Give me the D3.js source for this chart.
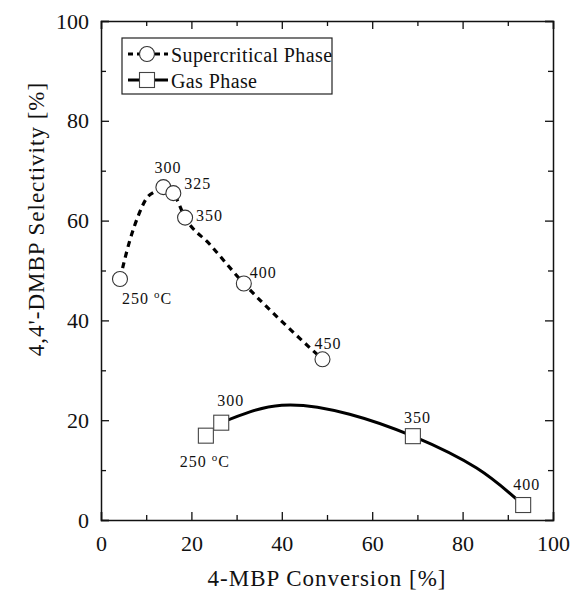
<!DOCTYPE html>
<html lang="en">
<head>
    <meta charset="UTF-8">
    <title>4,4'-DMBP Selectivity vs 4-MBP Conversion</title>
    <script src="https://d3js.org/d3.v7.min.js"></script>
    <style>
        body { margin: 0; background: #fff; }
        svg { display: block; }
    </style>
</head>
<body>
    <div id="chart"></div>
    <script>
        // supercritical phase (circles)
        const scTemps = ["250", "300", "325", "350", "400", "450"];
        const scConversion = [4.2, 13.8, 16.0, 18.6, 31.6, 49.0];
        const scSelectivity = [48.3, 66.7, 65.5, 60.6, 47.4, 32.2];
        // dashed trend line
        const scCurveX = [4.2, 6.4, 8.3, 10.1, 11.9, 13.8, 16.0, 18.6, 24.0, 31.6, 40.0, 49.0];
        const scCurveY = [48.3, 56.1, 61.1, 64.5, 65.8, 66.7, 65.5, 60.6, 55.3, 47.4, 39.8, 32.2];

        // gas phase (squares)
        const gasTemps = ["250", "300", "350", "400"];
        const gasConversion = [23.2, 26.6, 69.0, 93.4];
        const gasSelectivity = [16.9, 19.5, 16.8, 3.0];
        // solid fitted line
        const gasCurveX = [26.6, 40.0, 55.0, 69.0, 83.1, 93.4];
        const gasCurveY = [19.5, 23.0, 21.2, 16.8, 10.4, 3.0];

        const majorTicks = [0, 20, 40, 60, 80, 100];
        const minorTicks = [10, 30, 50, 70, 90];

        const legendLabels = ["Supercritical Phase", "Gas Phase"];

        // label offsets (px) from each marker
        const scLabelOffsets = [[2, 25], [-9, -14], [11, -4], [11, 3], [6, -5], [-8, -10]];
        const gasLabelOffsets = [[-26, 31], [-4, -17], [-9, -13], [-10, -15]];

        const serif = '"Liberation Serif", "Times New Roman", "DejaVu Serif"';
        const width = 572, height = 591;
        const margin = {top: 21, right: 19, bottom: 71, left: 101};

        const svg = d3.select("#chart").append("svg")
            .attr("width", width)
            .attr("height", height);

        const x = d3.scaleLinear().domain([0, 100]).range([margin.left, width - margin.right]);
        const y = d3.scaleLinear().domain([0, 100]).range([height - margin.bottom, margin.top]);

        // axes with inward ticks on all four sides
        function drawAxis(axisFn, scale, transform, showLabels) {
            const major = svg.append("g").attr("transform", transform)
                .call(axisFn(scale).tickValues(majorTicks).tickSize(-8)
                    .tickFormat(showLabels ? d3.format("d") : ""));
            svg.append("g").attr("transform", transform)
                .call(axisFn(scale).tickValues(minorTicks).tickSize(-5).tickFormat(""))
                .call(g => g.select(".domain").remove());
            major.select(".domain").attr("stroke", "#111").attr("stroke-width", 1.5);
            major.selectAll(".tick text")
                .style("font-family", serif)
                .style("font-size", "22px")
                .attr("fill", "#111");
            return major;
        }

        const xAxis = drawAxis(d3.axisBottom, x, `translate(0,${y(0)})`, true);
        xAxis.selectAll(".tick text").attr("dy", null).attr("y", 31);
        drawAxis(d3.axisTop, x, `translate(0,${y(100)})`, false);
        const yAxis = drawAxis(d3.axisLeft, y, `translate(${x(0)},0)`, true);
        yAxis.selectAll(".tick text").attr("x", -12);
        drawAxis(d3.axisRight, y, `translate(${x(100)},0)`, false);
        svg.selectAll(".tick line").attr("stroke", "#111").attr("stroke-width", 1.3);

        // axis titles
        svg.append("text")
            .attr("x", (x(0) + x(100)) / 2)
            .attr("y", 586)
            .attr("text-anchor", "middle")
            .style("font-family", serif)
            .style("font-size", "23px")
            .style("letter-spacing", "1px")
            .attr("fill", "#111")
            .text("4-MBP Conversion [%]");

        svg.append("text")
            .attr("transform", `translate(44, 219) rotate(-90)`)
            .attr("text-anchor", "middle")
            .style("font-family", serif)
            .style("font-size", "23px")
            .style("letter-spacing", "1px")
            .attr("fill", "#111")
            .text("4,4'-DMBP Selectivity [%]");

        const scLine = d3.line()
            .x(d => x(d[0]))
            .y(d => y(d[1]))
            .curve(d3.curveMonotoneX);

        const gasLine = d3.line()
            .x(d => x(d[0]))
            .y(d => y(d[1]))
            .curve(d3.curveNatural);

        const scCurve = scCurveX.map((v, i) => [v, scCurveY[i]]);
        const gasCurve = gasCurveX.map((v, i) => [v, gasCurveY[i]]);

        svg.append("path")
            .datum(scCurve)
            .attr("d", scLine)
            .attr("fill", "none")
            .attr("stroke", "#000")
            .attr("stroke-width", 3.2)
            .attr("stroke-dasharray", "6,5");

        svg.append("path")
            .datum(gasCurve)
            .attr("d", gasLine)
            .attr("fill", "none")
            .attr("stroke", "#000")
            .attr("stroke-width", 3);

        // markers
        const scData = scTemps.map((t, i) => ({t: t, x: scConversion[i], y: scSelectivity[i], off: scLabelOffsets[i]}));
        const gasData = gasTemps.map((t, i) => ({t: t, x: gasConversion[i], y: gasSelectivity[i], off: gasLabelOffsets[i]}));

        svg.selectAll(".sc-pt")
            .data(scData)
            .enter()
            .append("circle")
            .attr("class", "sc-pt")
            .attr("cx", d => x(d.x))
            .attr("cy", d => y(d.y))
            .attr("r", 7.5)
            .attr("fill", "#fff")
            .attr("stroke", "#333")
            .attr("stroke-width", 1.1);

        svg.selectAll(".gas-pt")
            .data(gasData)
            .enter()
            .append("rect")
            .attr("class", "gas-pt")
            .attr("x", d => x(d.x) - 7.5)
            .attr("y", d => y(d.y) - 7.5)
            .attr("width", 15)
            .attr("height", 15)
            .attr("fill", "#fff")
            .attr("stroke", "#444")
            .attr("stroke-width", 1.1);

        // temperature labels
        function addLabels(data) {
            data.forEach((d, i) => {
                const t = svg.append("text")
                    .attr("x", x(d.x) + d.off[0])
                    .attr("y", y(d.y) + d.off[1])
                    .style("font-family", serif)
                    .style("font-size", "16px")
                    .style("letter-spacing", "1px")
                    .attr("fill", "#111");
                t.append("tspan").text(d.t);
                if (i === 0) {
                    t.append("tspan").text(" ");
                    t.append("tspan").attr("dy", -6).style("font-size", "11px").text("o");
                    t.append("tspan").attr("dy", 6).text("C");
                }
            });
        }
        addLabels(scData);
        addLabels(gasData);

        // legend
        const legend = svg.append("g");
        legend.append("rect")
            .attr("x", 122).attr("y", 38)
            .attr("width", 210).attr("height", 56)
            .attr("fill", "#fff")
            .attr("stroke", "#222")
            .attr("stroke-width", 1.2);

        legendLabels.forEach((label, i) => {
            const ly = 54 + i * 26;
            legend.append("line")
                .attr("x1", 128).attr("x2", 168)
                .attr("y1", ly).attr("y2", ly)
                .attr("stroke", "#000")
                .attr("stroke-width", 3)
                .attr("stroke-dasharray", i === 0 ? "5,4" : null);
            if (i === 0) {
                legend.append("circle")
                    .attr("cx", 147).attr("cy", ly).attr("r", 7.5)
                    .attr("fill", "#fff").attr("stroke", "#333").attr("stroke-width", 1.1);
            } else {
                legend.append("rect")
                    .attr("x", 139.5).attr("y", ly - 7.5).attr("width", 15).attr("height", 15)
                    .attr("fill", "#fff").attr("stroke", "#444").attr("stroke-width", 1.1);
            }
            legend.append("text")
                .attr("x", 171)
                .attr("y", ly + 8)
                .style("font-family", serif)
                .style("font-size", "20px")
                .style("letter-spacing", "0.4px")
                .attr("fill", "#111")
                .text(label);
        });
    </script>
</body>
</html>
